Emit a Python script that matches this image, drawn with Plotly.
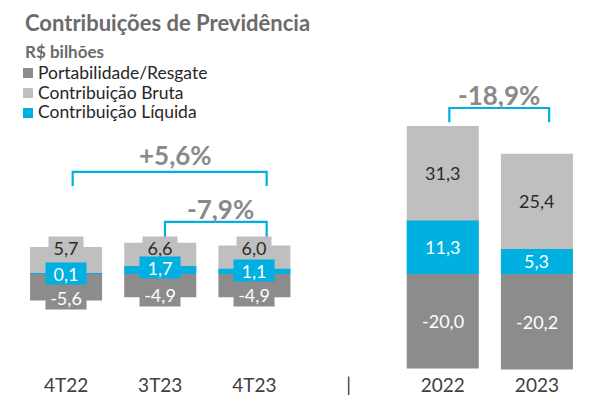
import plotly.graph_objects as go

# ---- data ----
categories = ["4T22", "3T23", "4T23", "|", "2022", "2023"]
resgate = [-5.6, -4.9, -4.9, None, -20.0, -20.2]       # Portabilidade/Resgate
bruta = [5.7, 6.6, 6.0, None, 31.3, 25.4]               # Contribuição Bruta
liquida = [0.1, 1.7, 1.1, None, 11.3, 5.3]              # Contribuição Líquida
series_names = ["Portabilidade/Resgate", "Contribuição Bruta", "Contribuição Líquida"]
changes = ["+5,6%", "-7,9%", "-18,9%"]

# ---- style ----
C_DARK = "#8c8c8c"
C_LIGHT = "#bfbfbf"
C_BLUE = "#00b0e0"
FONT = "Lato"
W, H = 608, 405
B = 33
PLOT_H = H - B
ZERO_PX = 274
PX_PER_UNIT = 4.73
Y_TOP = ZERO_PX / PX_PER_UNIT
Y_BOT = -(PLOT_H - ZERO_PX) / PX_PER_UNIT
X_RANGE = [-0.7018, 5.7549]


def fmt(v):
    return f"{v:.1f}".replace(".", ",")


def pxx(px):
    return px / W


def pxy(py):
    return (PLOT_H - py) / PLOT_H


fig = go.Figure()
for name, vals, col in zip(series_names, [resgate, bruta, liquida], [C_DARK, C_LIGHT, C_BLUE]):
    fig.add_trace(go.Bar(x=categories, y=vals, name=name, marker=dict(color=col, line=dict(width=0)),
                         width=0.765, opacity=1, showlegend=False, hoverinfo="skip"))

ann = []
shapes = []

# data labels (x given as category index)
quarter_idx = [0, 1, 2]
annual_idx = [4, 5]
light_level = min(bruta[i] for i in quarter_idx)
for i in quarter_idx:
    ann.append(dict(x=i, y=light_level, text=fmt(bruta[i]), showarrow=False,
                    font=dict(family=FONT, size=18, color="#2b2b2b"), bgcolor=C_LIGHT,
                    width=34, height=21, borderpad=0, xanchor="center", yanchor="middle"))
for i in quarter_idx:
    ann.append(dict(x=i, y=resgate[i] + 0.45, text=fmt(resgate[i]), showarrow=False,
                    font=dict(family=FONT, size=18, color="white"), bgcolor=C_DARK,
                    width=40, height=22, borderpad=0, xanchor="center", yanchor="middle"))
for i in quarter_idx:
    ann.append(dict(x=i, y=liquida[i] * 0.75, text=fmt(liquida[i]), showarrow=False,
                    font=dict(family=FONT, size=18, color="white"), bgcolor=C_BLUE,
                    width=40, height=21, borderpad=0, xanchor="center", yanchor="middle"))
for i in annual_idx:
    ann.append(dict(x=i, y=(bruta[i] + liquida[i]) / 2, text=fmt(bruta[i]), showarrow=False,
                    font=dict(family=FONT, size=18, color="#2b2b2b")))
    ann.append(dict(x=i, y=liquida[i] / 2, text=fmt(liquida[i]), showarrow=False,
                    font=dict(family=FONT, size=18, color="white")))
    ann.append(dict(x=i, y=resgate[i] / 2, text=fmt(resgate[i]), showarrow=False,
                    font=dict(family=FONT, size=18, color="white")))

# brackets (left index, right index, top level, leg length, label pos)
brackets = [
    (0, 2, 21.6, 3.0, 1.167, 25.2, changes[0]),
    (1, 2, 11.0, 3.2, 1.645, 13.8, changes[1]),
    (4, 5, 35.1, 3.0, 4.597, 37.8, changes[2]),
]
for li, ri, ytop, leg, lx, ly, txt in brackets:
    x0 = li + 0.07 if li != 1 else li + 0.05
    x1 = ri + 0.13
    shapes.append(dict(type="path", xref="x", yref="y",
                       path=f"M {x0},{ytop-leg} L {x0},{ytop} L {x1},{ytop} L {x1},{ytop-leg}",
                       line=dict(color=C_BLUE, width=2.2)))
    ann.append(dict(x=lx, y=ly, xref="x", yref="y", text=f"<b>{txt}</b>", showarrow=False,
                    font=dict(family=FONT, size=26, color="#8a8a8a")))

# title + subtitle
ann.append(dict(x=pxx(23), y=pxy(23), xref="paper", yref="paper", xanchor="left", yanchor="middle",
                text="<b>Contribuições de Previdência</b>", showarrow=False,
                font=dict(family=FONT, size=22, color="#6b6b6b")))
ann.append(dict(x=pxx(23), y=pxy(52), xref="paper", yref="paper", xanchor="left", yanchor="middle",
                text="<b>R$ bilhões</b>", showarrow=False,
                font=dict(family=FONT, size=17, color="#6b6b6b")))

# manual legend
for k, (name, col) in enumerate(zip(series_names, [C_DARK, C_LIGHT, C_BLUE])):
    cy = 73 + 20 * k
    shapes.append(dict(type="rect", xref="paper", yref="paper", x0=pxx(23), x1=pxx(33),
                       y0=pxy(cy + 5), y1=pxy(cy - 5), fillcolor=col, line=dict(width=0)))
    ann.append(dict(x=pxx(36), y=pxy(cy - 1), xref="paper", yref="paper", xanchor="left", yanchor="middle",
                    text=name, showarrow=False, font=dict(family=FONT, size=17.5, color="#262626")))

fig.update_layout(
    width=W, height=H,
    margin=dict(l=0, r=0, t=0, b=B),
    barmode="overlay",
    plot_bgcolor="white", paper_bgcolor="white",
    xaxis=dict(type="category", range=X_RANGE, showgrid=False, zeroline=False, showline=False,
               ticks="", tickfont=dict(family=FONT, size=19, color="#404040"), fixedrange=True),
    yaxis=dict(range=[Y_BOT, Y_TOP], visible=False, fixedrange=True),
    annotations=ann,
    shapes=shapes,
    showlegend=False,
)

fig.write_html("out.html", config={"displayModeBar": False},
               post_script="document.body.style.margin='0';document.body.style.overflow='hidden';")
